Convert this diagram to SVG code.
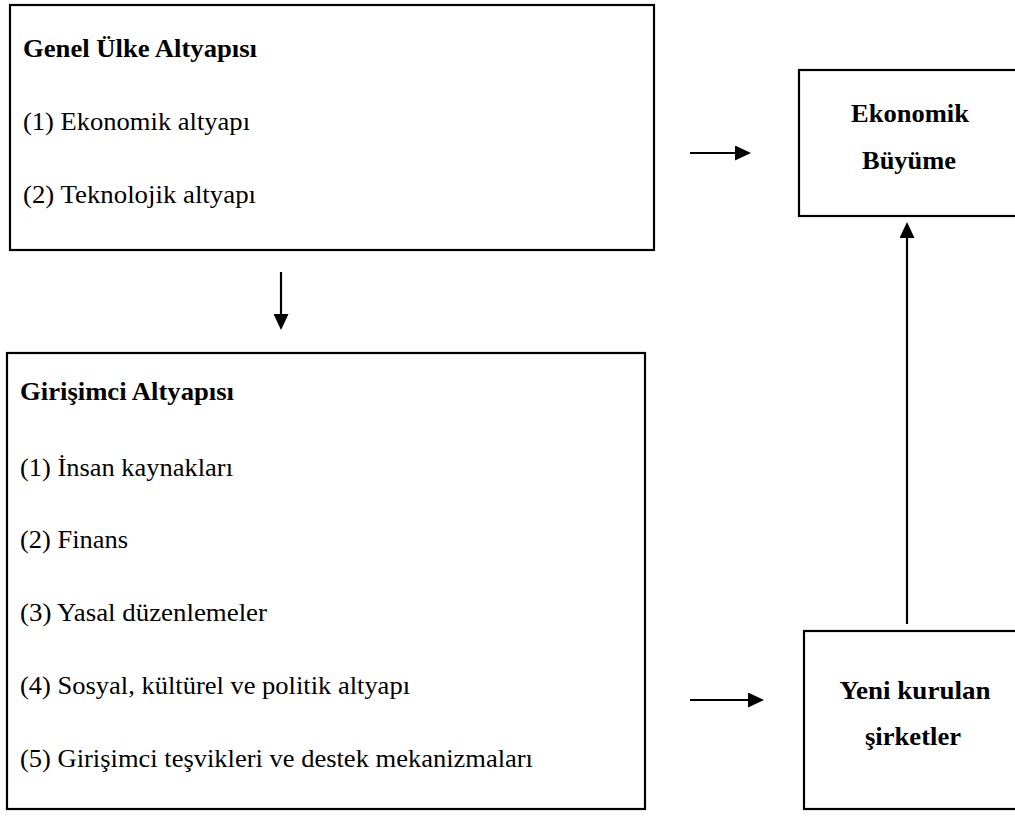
<svg xmlns="http://www.w3.org/2000/svg" width="1015" height="817" viewBox="0 0 1015 817">
<style>
.box{fill:#fff;stroke:#000;stroke-width:2.2}
.t{font-family:"Liberation Serif","Times New Roman",serif;font-size:25px;fill:#000}
.b{font-weight:bold}
.c{text-anchor:middle}
.conn{stroke:#000;stroke-width:2.2;fill:none}
</style>
<defs>
<marker id="ah" markerUnits="userSpaceOnUse" markerWidth="16" markerHeight="15" refX="6" refY="7.5" orient="auto">
<path d="M0,0 L16,7.5 L0,15 Z" fill="#000"/>
</marker>
</defs>
<rect width="1015" height="817" fill="#fff"/>
<g id="genel">
<rect class="box" x="10" y="5" width="644" height="245"/>
<text class="t b" x="23" y="57" textLength="234" lengthAdjust="spacingAndGlyphs">Genel Ülke Altyapısı</text>
<text class="t" x="23" y="130" textLength="227" lengthAdjust="spacingAndGlyphs">(1) Ekonomik altyapı</text>
<text class="t" x="23" y="203" textLength="233" lengthAdjust="spacingAndGlyphs">(2) Teknolojik altyapı</text>
</g>
<g id="girisimci">
<rect class="box" x="7" y="353" width="638" height="456"/>
<text class="t b" x="20" y="400" textLength="214" lengthAdjust="spacingAndGlyphs">Girişimci Altyapısı</text>
<text class="t" x="20" y="476" textLength="213" lengthAdjust="spacingAndGlyphs">(1) İnsan kaynakları</text>
<text class="t" x="20" y="548" textLength="108" lengthAdjust="spacingAndGlyphs">(2) Finans</text>
<text class="t" x="20" y="621" textLength="247" lengthAdjust="spacingAndGlyphs">(3) Yasal düzenlemeler</text>
<text class="t" x="20" y="694" textLength="390" lengthAdjust="spacingAndGlyphs">(4) Sosyal, kültürel ve politik altyapı</text>
<text class="t" x="20" y="767" textLength="513" lengthAdjust="spacingAndGlyphs">(5) Girişimci teşvikleri ve destek mekanizmaları</text>
</g>
<g id="buyume">
<rect class="box" x="799" y="70" width="230" height="146"/>
<text class="t b c" x="910" y="122" textLength="118" lengthAdjust="spacingAndGlyphs">Ekonomik</text>
<text class="t b c" x="909" y="169" textLength="94" lengthAdjust="spacingAndGlyphs">Büyüme</text>
</g>
<g id="yeni">
<rect class="box" x="804" y="631" width="230" height="178"/>
<text class="t b c" x="915" y="699" textLength="151" lengthAdjust="spacingAndGlyphs">Yeni kurulan</text>
<text class="t b c" x="913" y="745" textLength="96" lengthAdjust="spacingAndGlyphs">şirketler</text>
</g>
<g id="connectors">
<line class="conn" x1="690" y1="153" x2="741" y2="153" marker-end="url(#ah)"/>
<line class="conn" x1="281" y1="272" x2="281" y2="320" marker-end="url(#ah)"/>
<line class="conn" x1="907" y1="624" x2="907" y2="232" marker-end="url(#ah)"/>
<line class="conn" x1="690" y1="700" x2="754" y2="700" marker-end="url(#ah)"/>
</g>
</svg>
